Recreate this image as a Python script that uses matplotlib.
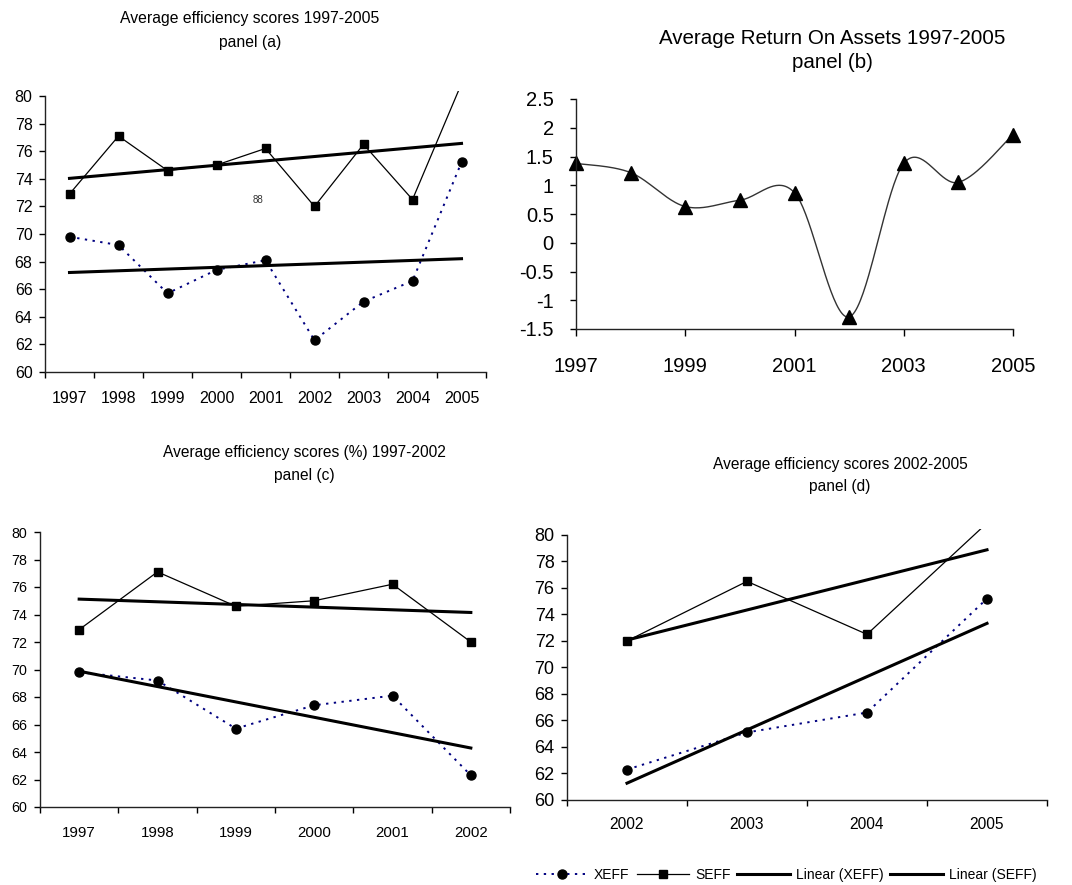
import numpy as np
import matplotlib
matplotlib.use('Agg')
import matplotlib.pyplot as plt
from matplotlib.lines import Line2D

plt.rcParams['font.family'] = ['Liberation Sans', 'DejaVu Sans']

# data
years = [1997, 1998, 1999, 2000, 2001, 2002, 2003, 2004, 2005]
xeff = [69.8, 69.2, 65.7, 67.4, 68.1, 62.3, 65.1, 66.6, 75.2]
seff = [72.9, 77.1, 74.6, 75.0, 76.2, 72.0, 76.5, 72.5, 80.9]
roa = [1.38, 1.22, 0.63, 0.74, 0.87, -1.29, 1.38, 1.05, 1.88]
roa_ticks = [-1.5, -1, -0.5, 0, 0.5, 1, 1.5, 2, 2.5]
eff_ticks = [60, 62, 64, 66, 68, 70, 72, 74, 76, 78, 80]

W, H = 1072, 885
fig = plt.figure(figsize=(W / 100, H / 100), dpi=100)


def box(l, t, r, b):
    # pixel box -> figure fraction
    return [l / W, 1 - b / H, (r - l) / W, (b - t) / H]


def style(ax):
    for s in ('top', 'right'):
        ax.spines[s].set_visible(False)
    for s in ('left', 'bottom'):
        ax.spines[s].set_color('#222222')
        ax.spines[s].set_linewidth(1.0)


def eff_panel(rect, yrs, xv, sv, ytop, xfs, yfs, xpad):
    ax = fig.add_axes(rect)
    style(ax)
    n = len(yrs)
    pos = np.arange(n) + 0.5
    ax.plot(pos, xv, color='#000080', ls=(0, (1.2, 2.8)), lw=1.4,
            marker='o', mfc='black', mec='black', ms=6.5)
    ax.plot(pos, sv, color='black', lw=0.9, marker='s', ms=6)
    ends = pos[[0, -1]]
    for vals in (xv, sv):
        k, c = np.polyfit(pos, vals, 1)
        ax.plot(ends, k * ends + c, color='black', lw=2.2)
    ax.set_xlim(0, n)
    ax.set_ylim(60, ytop)
    ax.spines['left'].set_bounds(60, 80)
    ax.set_yticks(eff_ticks)
    ax.set_xticks(np.arange(n + 1))
    ax.set_xticklabels([])
    ax.set_xticks(pos, minor=True)
    ax.set_xticklabels([str(y) for y in yrs], minor=True)
    ax.tick_params(axis='x', which='major', length=4, width=1, direction='out')
    ax.tick_params(axis='x', which='minor', length=0, labelsize=xfs, pad=xpad)
    ax.tick_params(axis='y', length=4, width=1, labelsize=yfs, pad=5)
    return ax


def smooth(xs, ys, n=40):
    # bezier smoothing through the points, like a spreadsheet "smoothed line"
    P = np.column_stack([xs, ys]).astype(float)
    Pp = np.vstack([P[0], P, P[-1]])
    t = np.linspace(0, 1, n)[:, None]
    segs = []
    for i in range(len(P) - 1):
        p0, p1, p2, p3 = Pp[i], Pp[i + 1], Pp[i + 2], Pp[i + 3]
        c1 = p1 + (p2 - p0) / 6
        c2 = p2 - (p3 - p1) / 6
        segs.append((1 - t) ** 3 * p1 + 3 * (1 - t) ** 2 * t * c1
                    + 3 * (1 - t) * t ** 2 * c2 + t ** 3 * p2)
    return np.vstack(segs)


# panel (a)
ax_a = eff_panel(box(45, 90.8, 486, 372), years, xeff, seff, 80.38, 11.5, 11.5, 13.5)
ax_a.text(0.483, 0.61, '88', transform=ax_a.transAxes, fontsize=7,
          ha='center', va='center', color='#333333')
fig.text(250 / W, 1 - 18 / H, 'Average efficiency scores 1997-2005', fontsize=11.3,
         ha='center', va='center')
fig.text(250 / W, 1 - 42 / H, 'panel (a)', fontsize=11.3, ha='center', va='center')

# panel (b)
ax_b = fig.add_axes(box(576, 99, 1013, 329))
style(ax_b)
curve = smooth(years, roa)
ax_b.plot(curve[:, 0], curve[:, 1], color='#333333', lw=1.0)
ax_b.plot(years, roa, ls='none', marker='^', color='black', ms=10, clip_on=False)
ax_b.set_xlim(1997, 2005)
ax_b.set_ylim(-1.5, 2.5)
ax_b.set_yticks(roa_ticks)
ax_b.set_yticklabels([f'{v:g}' for v in roa_ticks])
ax_b.set_xticks(years[::2])
ax_b.tick_params(axis='x', length=5, width=1, labelsize=14.5, pad=15)
ax_b.tick_params(axis='y', length=4, width=1, labelsize=14.5, pad=12)
fig.text(832 / W, 1 - 39 / H, 'Average Return On Assets 1997-2005', fontsize=14.8,
         ha='center', va='center')
fig.text(832 / W, 1 - 63 / H, 'panel (b)', fontsize=14.8, ha='center', va='center')

# panel (c)
eff_panel(box(40, 532, 510, 807), years[:6], xeff[:6], seff[:6], 80, 10.8, 10.3, 14)
fig.text(304 / W, 1 - 452 / H, 'Average efficiency scores (%) 1997-2002', fontsize=11.2,
         ha='center', va='center')
fig.text(304 / W, 1 - 475 / H, 'panel (c)', fontsize=11.2, ha='center', va='center')

# panel (d)
eff_panel(box(567, 529, 1047, 800), years[5:], xeff[5:], seff[5:], 80.45, 11.2, 13, 12)
fig.text(840 / W, 1 - 464 / H, 'Average efficiency scores 2002-2005', fontsize=11.2,
         ha='center', va='center')
fig.text(840 / W, 1 - 487 / H, 'panel (d)', fontsize=11.2, ha='center', va='center')

handles = [
    Line2D([], [], color='#000080', ls=(0, (1.2, 2.8)), lw=1.4, marker='o',
           mfc='black', mec='black', ms=6.5),
    Line2D([], [], color='black', lw=0.9, marker='s', ms=6),
    Line2D([], [], color='black', lw=2.2),
    Line2D([], [], color='black', lw=2.2),
]
labels = ['XEFF', 'SEFF', 'Linear (XEFF)', 'Linear (SEFF)']
fig.legend(handles, labels, loc='center', bbox_to_anchor=(786 / W, 1 - 875 / H),
           ncol=4, frameon=False, fontsize=10, handlelength=3.8,
           handletextpad=0.4, columnspacing=0.5)

fig.savefig('out.png', dpi=100)
